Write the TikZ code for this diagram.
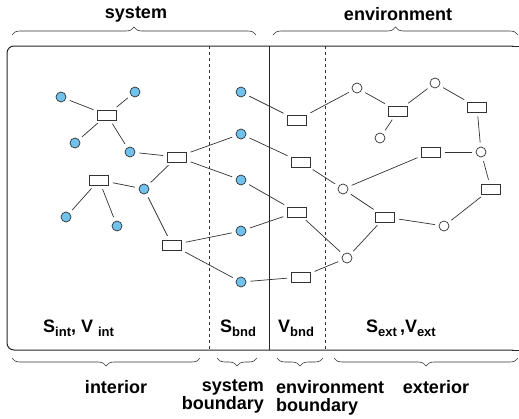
\documentclass[tikz,border=0pt]{standalone}
\usepackage{fontspec}
\setmainfont{Liberation Sans}
\usetikzlibrary{decorations.pathreplacing}
\definecolor{nodeblue}{RGB}{110,195,238}
\newcommand{\lbl}[2]{#1\raisebox{-0.4ex}{\fontsize{13}{13}\selectfont #2}}

\begin{document}
\begin{tikzpicture}[x=1pt,y=-1pt,
	sysnode/.style={circle,draw=black!80,fill=nodeblue,inner sep=0pt,minimum size=10pt,line width=0.7pt},
	envnode/.style={circle,draw=black!80,fill=white,inner sep=0pt,minimum size=10pt,line width=0.7pt},
	linkbox/.style={rectangle,draw=black!80,fill=white,inner sep=0pt,minimum width=19pt,minimum height=10pt,line width=0.7pt},
	link/.style={draw=black!80,line width=0.7pt,shorten >=4pt,shorten <=4pt},
	brc/.style={decorate,decoration={brace,amplitude=8pt},draw=black!80,line width=0.6pt},
	txt/.style={font=\fontsize{18}{18}\selectfont\bfseries}]
	\useasboundingbox (0,0) rectangle (519,418);
	
	%frame
	\draw[line width=1pt,black!85,rounded corners=7pt] (513,46) -- (7,46) -- (7,350) -- (513,350);
	\draw[line width=1pt,black!85] (512,46) -- (519,46);
	\draw[line width=1pt,black!85] (512,350) -- (519,350);
	\draw[line width=0.7pt,dashed,black!80] (209,46) -- (209,350);
	\draw[line width=0.9pt,black!85] (269,46) -- (269,350);
	\draw[line width=0.7pt,dashed,black!80] (325,46) -- (325,350);
	
	%braces
	\draw[brc] (12,35) -- (256,35);
	\draw[brc] (273,35) -- (518,35);
	\draw[brc] (200,358) -- (12,358);
	\draw[brc] (257,358) -- (217,358);
	\draw[brc] (323,358) -- (277,358);
	\draw[brc] (518,358) -- (334,358);
	
	%brace labels
	\node[txt] (tsys) at (136,14) {system};
	\node[txt] (tenv) at (398,14) {environment};
	\node[txt] (tint) at (116,387) {interior};
	\node[txt,align=right,anchor=north east,inner sep=0pt] (tsb) at (264,380) {system\\boundary};
	\node[txt,align=left,anchor=north west,inner sep=0pt] (teb) at (276,380) {environment\\boundary};
	\node[txt] (text) at (436,387) {exterior};
	
	%region labels
	\node[txt,anchor=west,inner sep=0pt] (lint) at (43,328) {\lbl{S}{int}, V \lbl{}{int}};
	\node[txt,anchor=west,inner sep=0pt] (lsb) at (220,328) {\lbl{S}{bnd}};
	\node[txt,anchor=west,inner sep=0pt] (leb) at (278,328) {\lbl{V}{bnd}};
	\node[txt,anchor=west,inner sep=0pt] (lext) at (366,328) {\lbl{S}{ext}\,,\lbl{V}{ext}};
	
	%interior
	\node[sysnode] (i1) at (61,97) {};
	\node[sysnode] (i2) at (135,92) {};
	\node[sysnode] (i3) at (75,143) {};
	\node[sysnode] (i4) at (130,152) {};
	\node[sysnode] (i5) at (144,189) {};
	\node[sysnode] (i6) at (66,217) {};
	\node[sysnode] (i7) at (117,226) {};
	\node[linkbox] (ia) at (107,115) {};
	\node[linkbox] (ib) at (177,157) {};
	\node[linkbox] (ic) at (99,180) {};
	\node[linkbox] (id) at (172,245) {};
	
	%system boundary
	\node[sysnode] (s1) at (241,92) {};
	\node[sysnode] (s2) at (241,134) {};
	\node[sysnode] (s3) at (241,180) {};
	\node[sysnode] (s4) at (241,231) {};
	\node[sysnode] (s5) at (241,282) {};
	
	%environment boundary
	\node[linkbox] (ea) at (297,120) {};
	\node[linkbox] (eb) at (301,162) {};
	\node[linkbox] (ec) at (297,212) {};
	\node[linkbox] (ed) at (301,277) {};
	
	%exterior
	\node[envnode] (x1) at (357,88) {};
	\node[envnode] (x2) at (435,83) {};
	\node[envnode] (x3) at (380,138) {};
	\node[envnode] (x4) at (481,152) {};
	\node[envnode] (x5) at (343,189) {};
	\node[envnode] (x6) at (444,226) {};
	\node[envnode] (x7) at (347,258) {};
	\node[linkbox] (xa) at (398,111) {};
	\node[linkbox] (xb) at (477,107) {};
	\node[linkbox] (xc) at (431,152) {};
	\node[linkbox] (xd) at (491,189) {};
	\node[linkbox] (xe) at (385,217) {};
	
	%links
	\draw[link] (i1) -- (ia);
	\draw[link] (i2) -- (ia);
	\draw[link] (i3) -- (ia);
	\draw[link] (ia) -- (i4);
	\draw[link] (i4) -- (ib);
	\draw[link] (ib) -- (i5);
	\draw[link] (ib) -- (s2);
	\draw[link] (ib) -- (s3);
	\draw[link] (ic) -- (i5);
	\draw[link] (ic) -- (i6);
	\draw[link] (ic) -- (i7);
	\draw[link] (i5) -- (id);
	\draw[link] (id) -- (s4);
	\draw[link] (id) -- (s5);
	\draw[link] (s1) -- (ea);
	\draw[link] (s2) -- (eb);
	\draw[link] (s3) -- (ec);
	\draw[link] (s4) -- (ec);
	\draw[link] (s5) -- (ed);
	\draw[link] (ea) -- (x1);
	\draw[link] (x1) -- (xa);
	\draw[link] (xa) -- (x2);
	\draw[link] (xa) -- (x3);
	\draw[link] (x2) -- (xb);
	\draw[link] (xb) -- (x4);
	\draw[link] (xc) -- (x4);
	\draw[link] (xc) -- (x5);
	\draw[link] (x4) -- (xd);
	\draw[link] (xd) -- (x6);
	\draw[link] (eb) -- (x5);
	\draw[link] (x5) -- (xe);
	\draw[link] (xe) -- (x6);
	\draw[link] (xe) -- (x7);
	\draw[link] (ec) -- (x7);
	\draw[link] (ed) -- (x7);
\end{tikzpicture}
\end{document}
